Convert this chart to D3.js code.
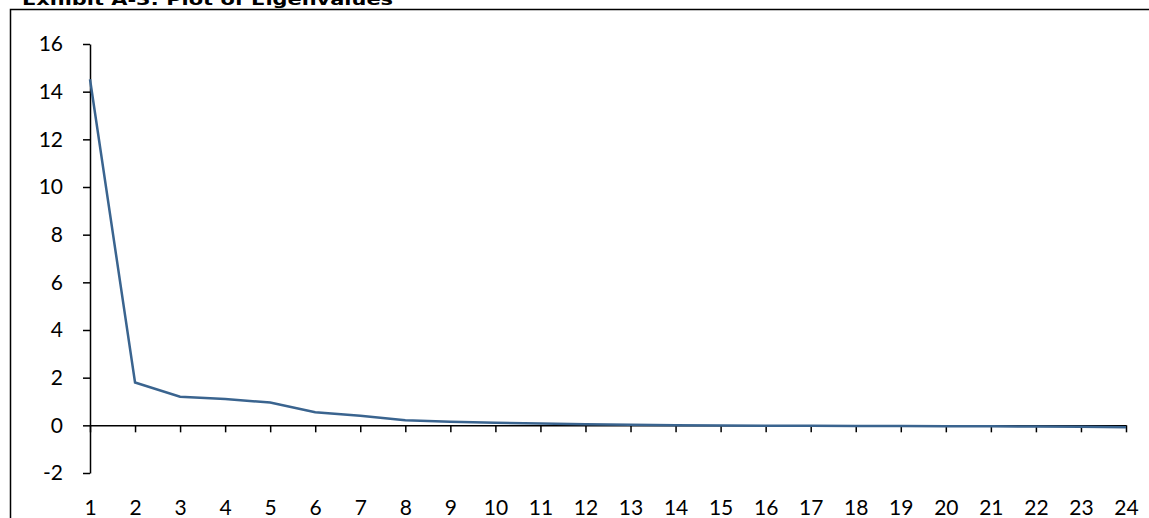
<!DOCTYPE html>
<html>
<head>
<meta charset="utf-8">
<script src="https://cdn.jsdelivr.net/npm/d3@7"></script>
<style>
  body { margin: 0; background: #fff; }
  svg { display: block; }
</style>
</head>
<body>
<div id="chart"></div>
<script>
// Eigenvalues
const factors = d3.range(1, 25);
const eigenvalues = [14.52, 1.8, 1.2, 1.1, 0.96, 0.55, 0.4, 0.21, 0.15, 0.11, 0.08, 0.05,
                     0.02, 0.0, -0.01, -0.02, -0.02, -0.03, -0.03, -0.04, -0.04, -0.05, -0.06, -0.08];
const yTicks = [-2, 0, 2, 4, 6, 8, 10, 12, 14, 16];
const titleText = "Exhibit A-3: Plot of Eigenvalues";

const width = 1149, height = 518;

const svg = d3.select("#chart").append("svg")
    .attr("width", width)
    .attr("height", height);

// frame (top and left edge of the chart box)
svg.append("path")
    .attr("d", `M10.5,${height} V9.5 H${width}`)
    .attr("fill", "none")
    .attr("stroke", "#000")
    .attr("stroke-width", 1.5);

// title, partly clipped by the page top as in the source
svg.append("text")
    .attr("x", 22)
    .attr("y", 5)
    .style("font-family", "DejaVu Sans, Verdana, sans-serif")
    .style("font-weight", "bold")
    .style("font-size", "16px")
    .attr("textLength", 371)
    .attr("lengthAdjust", "spacingAndGlyphs")
    .text(titleText);

const x = d3.scaleLinear()
    .domain([1, 24])
    .range([90, 1126]);

const y = d3.scaleLinear()
    .domain([-2, 16])
    .range([473, 44]);

const labelFont = "Lato, 'Open Sans', sans-serif";

// y axis
const yAxis = svg.append("g")
    .attr("transform", "translate(90,0)")
    .call(d3.axisLeft(y).tickValues(yTicks).tickFormat(d => String(d))
        .tickSize(7).tickSizeOuter(0).tickPadding(20));
yAxis.select(".domain").attr("stroke-width", 1.5);
yAxis.selectAll(".tick line").attr("stroke-width", 1.5);
yAxis.selectAll("text")
    .style("font-family", labelFont)
    .style("font-size", "21px")
    .attr("fill", "#000");

// x axis along zero
const xAxis = svg.append("g")
    .attr("transform", `translate(0,${y(0)})`)
    .call(d3.axisBottom(x).tickValues(factors).tickFormat(d3.format("d")).tickSize(7).tickSizeOuter(0));
xAxis.select(".domain").attr("stroke-width", 1.5);
xAxis.selectAll(".tick line").attr("stroke-width", 1.5);
xAxis.selectAll("text")
    .attr("y", y(-2) - y(0) + 42)
    .attr("dy", 0)
    .style("font-family", labelFont)
    .style("font-size", "21px")
    .attr("fill", "#000");

// eigenvalue line
const line = d3.line()
    .x((d, i) => x(factors[i]))
    .y(d => y(d));

svg.append("path")
    .datum(eigenvalues)
    .attr("d", line)
    .attr("fill", "none")
    .attr("stroke", "#3a648f")
    .attr("stroke-width", 2.5);
</script>
</body>
</html>
